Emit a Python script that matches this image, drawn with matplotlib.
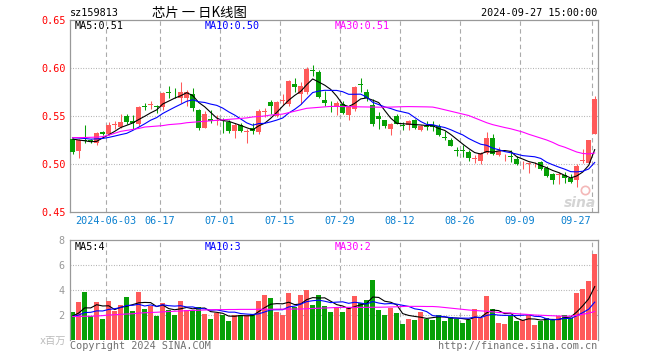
import matplotlib
matplotlib.use("Agg")
import matplotlib.pyplot as plt
import matplotlib.transforms as mtransforms
import pandas as pd

plt.rcParams['font.family'] = ['DejaVu Sans Mono', 'Noto Sans CJK SC']

code = "sz159813"
title = "芯片 一 日K线图"
stamp = "2024-09-27 15:00:00"

# daily OHLC, 2024-05-24 .. 2024-09-27
opens = [0.526, 0.514, 0.525, 0.525, 0.522, 0.533, 0.531, 0.541, 0.539, 0.550,
         0.545, 0.542, 0.560, 0.561, 0.560, 0.559, 0.575, 0.575, 0.569, 0.569,
         0.573, 0.556, 0.538, 0.547, 0.545, 0.546, 0.5435, 0.534, 0.541, 0.533,
         0.537, 0.533, 0.554, 0.565, 0.5505, 0.566, 0.5626, 0.583, 0.573, 0.5747,
         0.598, 0.5955, 0.567, 0.560, 0.559, 0.5625, 0.5515, 0.557, 0.583, 0.575,
         0.561, 0.5505, 0.5455, 0.536, 0.550, 0.5405, 0.541, 0.5455, 0.535, 0.540,
         0.541, 0.540, 0.528, 0.5255, 0.515, 0.5145, 0.5125, 0.5055, 0.503, 0.5115,
         0.527, 0.509, 0.507, 0.508, 0.5055, 0.4975, 0.500, 0.4995, 0.502, 0.4955,
         0.4895, 0.489, 0.489, 0.485, 0.4832, 0.5035, 0.5015, 0.5315]
highs = [0.527, 0.526, 0.541, 0.526, 0.533, 0.534, 0.544, 0.545, 0.552, 0.5525,
         0.551, 0.560, 0.564, 0.566, 0.561, 0.575, 0.581, 0.579, 0.585, 0.577,
         0.579, 0.557, 0.555, 0.556, 0.551, 0.548, 0.546, 0.543, 0.543, 0.536,
         0.543, 0.557, 0.558, 0.567, 0.566, 0.573, 0.587, 0.590, 0.585, 0.601,
         0.603, 0.598, 0.576, 0.566, 0.566, 0.566, 0.561, 0.581, 0.590, 0.578,
         0.568, 0.554, 0.546, 0.543, 0.552, 0.5436, 0.546, 0.547, 0.541, 0.5446,
         0.545, 0.5415, 0.534, 0.527, 0.518, 0.5195, 0.5142, 0.509, 0.513, 0.533,
         0.531, 0.5177, 0.510, 0.5142, 0.5085, 0.5032, 0.502, 0.502, 0.5035, 0.4975,
         0.491, 0.4918, 0.4918, 0.4894, 0.4997, 0.516, 0.525, 0.571]
lows = [0.5105, 0.506, 0.522, 0.522, 0.520, 0.530, 0.530, 0.536, 0.538, 0.5415,
        0.536, 0.540, 0.556, 0.557, 0.553, 0.556, 0.569, 0.569, 0.564, 0.560,
        0.555, 0.535, 0.537, 0.543, 0.541, 0.532, 0.532, 0.527, 0.533, 0.522,
        0.531, 0.531, 0.549, 0.552, 0.549, 0.561, 0.560, 0.5747, 0.5626, 0.573,
        0.592, 0.569, 0.560, 0.554, 0.551, 0.552, 0.546, 0.555, 0.5747, 0.566,
        0.540, 0.5367, 0.537, 0.530, 0.5415, 0.5357, 0.5357, 0.536, 0.534, 0.535,
        0.5345, 0.5295, 0.5246, 0.5185, 0.508, 0.5075, 0.5032, 0.501, 0.5005, 0.510,
        0.5095, 0.5085, 0.5032, 0.502, 0.499, 0.4943, 0.4907, 0.497, 0.4935, 0.4865,
        0.479, 0.479, 0.4797, 0.480, 0.476, 0.501, 0.501, 0.531]
closes = [0.513, 0.525, 0.524, 0.524, 0.532, 0.531, 0.541, 0.542, 0.544, 0.5435,
          0.543, 0.559, 0.559, 0.562, 0.559, 0.5735, 0.574, 0.5745, 0.5745, 0.575,
          0.5585, 0.538, 0.552, 0.545, 0.546, 0.545, 0.5345, 0.541, 0.5345, 0.534,
          0.534, 0.555, 0.555, 0.560, 0.5643, 0.567, 0.586, 0.580, 0.581, 0.599,
          0.597, 0.570, 0.5635, 0.559, 0.564, 0.5535, 0.559, 0.5805, 0.582, 0.569,
          0.542, 0.5465, 0.5395, 0.542, 0.542, 0.5398, 0.5445, 0.537, 0.540, 0.539,
          0.539, 0.530, 0.527, 0.519, 0.514, 0.514, 0.5065, 0.506, 0.5115, 0.5275,
          0.510, 0.5135, 0.5075, 0.507, 0.4998, 0.498, 0.5005, 0.500, 0.4945, 0.4875,
          0.4838, 0.4895, 0.4857, 0.481, 0.4977, 0.504, 0.5245, 0.5675]
# volume, million shares
volume = [2.21, 3.07, 3.87, 1.89, 3.07, 1.71, 3.15, 2.35, 2.83, 3.47,
          2.35, 3.87, 2.51, 2.75, 1.89, 2.99, 2.43, 2.03, 3.15, 2.43,
          2.43, 2.67, 2.11, 1.71, 2.16, 2.03, 1.55, 2.03, 2.03, 2.03,
          2.11, 3.15, 3.63, 3.39, 2.27, 2.03, 3.79, 2.67, 3.63, 4.03,
          2.83, 3.63, 2.75, 2.27, 2.67, 2.27, 2.59, 3.55, 2.99, 3.23,
          4.83, 2.43, 2.03, 2.59, 2.19, 1.31, 1.71, 1.63, 2.27, 1.71,
          1.63, 2.03, 1.55, 1.87, 1.71, 1.39, 1.63, 2.51, 1.79, 3.55,
          2.51, 1.39, 1.31, 1.95, 1.55, 1.63, 2.03, 1.23, 1.55, 1.79,
          1.63, 1.95, 2.03, 1.79, 3.79, 4.11, 4.75, 6.91]
# sessions before the window, needed to start MA5 / MA10
prev_close = [0.530, 0.528, 0.531, 0.529, 0.527, 0.530, 0.528, 0.529, 0.530]
prev_volume = [1.8, 1.9, 1.7, 1.9, 1.8, 1.9, 1.8, 1.9, 1.8]
ma30_price = [0.5275, 0.5275, 0.5276, 0.5278, 0.528, 0.5285, 0.530, 0.532, 0.534, 0.535,
              0.536, 0.537, 0.5385, 0.539, 0.5395, 0.540, 0.541, 0.5415, 0.542, 0.543,
              0.5435, 0.544, 0.5445, 0.545, 0.5455, 0.546, 0.5465, 0.547, 0.5475, 0.548,
              0.549, 0.5495, 0.550, 0.551, 0.5515, 0.552, 0.5535, 0.555, 0.5565, 0.558,
              0.5585, 0.559, 0.5595, 0.560, 0.560, 0.5598, 0.5598, 0.5596, 0.5595, 0.5594,
              0.5593, 0.5592, 0.5592, 0.5593, 0.5595, 0.5597, 0.5598, 0.5597, 0.5596, 0.5595,
              0.5593, 0.558, 0.5565, 0.555, 0.5535, 0.552, 0.5505, 0.548, 0.5455, 0.543,
              0.541, 0.5395, 0.538, 0.5367, 0.535, 0.5333, 0.531, 0.529, 0.527, 0.525,
              0.5225, 0.5195, 0.5175, 0.515, 0.5125, 0.511, 0.5105, 0.5115]
ma30_volume = [1.88, 1.88, 1.90, 1.90, 1.92, 1.95, 2.00, 2.02, 2.05, 2.08,
               2.10, 2.15, 2.18, 2.20, 2.22, 2.25, 2.28, 2.30, 2.32, 2.35,
               2.37, 2.38, 2.40, 2.42, 2.43, 2.43, 2.44, 2.44, 2.45, 2.45,
               2.45, 2.46, 2.46, 2.46, 2.47, 2.47, 2.47, 2.48, 2.48, 2.50,
               2.52, 2.54, 2.56, 2.58, 2.60, 2.61, 2.61, 2.61, 2.61, 2.61,
               2.62, 2.62, 2.63, 2.64, 2.66, 2.68, 2.69, 2.69, 2.69, 2.68,
               2.68, 2.65, 2.60, 2.55, 2.50, 2.45, 2.40, 2.36, 2.33, 2.30,
               2.25, 2.20, 2.18, 2.15, 2.10, 2.07, 2.04, 2.00, 1.98, 1.96,
               1.94, 1.92, 1.90, 1.92, 1.97, 2.05, 2.15, 2.28]
tick_idx = [6, 15, 25, 35, 45, 55, 65, 75, 87]
tick_labels = ["2024-06-03", "06-17", "07-01", "07-15", "07-29",
               "08-12", "08-26", "09-09", "09-27"]

UP, DOWN = "#ff5a5a", "#07a007"
GRID, FRAME = "#aaaaaa", "#999999"

n = len(closes)
x = list(range(n))
skip = len(prev_close)
c = pd.Series(prev_close + closes)
v = pd.Series(prev_volume + volume)
ma5 = c.rolling(5).mean().iloc[skip:].values
ma10 = c.rolling(10).mean().iloc[skip:].values
vma5 = v.rolling(5).mean().iloc[skip:].values
vma10 = v.rolling(10).mean().iloc[skip:].values
colors = [UP if cl >= op else DOWN for op, cl in zip(opens, closes)]

fig = plt.figure(figsize=(6.6, 3.6), dpi=100)
ax = fig.add_axes([70 / 660, 148 / 360, 528 / 660, 192 / 360])
axv = fig.add_axes([70 / 660, 20 / 360, 528 / 660, 100 / 360])

grid_x = [t - 0.45 for t in tick_idx]
for a in (ax, axv):
    a.set_xlim(-0.45, n - 0.45)
    a.set_xticks([])
    for s in a.spines.values():
        s.set_color(FRAME)
        s.set_linewidth(0.9)
    for gx in grid_x:
        a.axvline(gx, color=GRID, lw=0.8, dashes=(4, 3), zorder=0)
    a.tick_params(axis='y', length=0, labelsize=7.3)

# price panel
ax.set_ylim(0.45, 0.65)
ax.set_yticks([0.45, 0.50, 0.55, 0.60, 0.65])
ax.set_yticklabels(["%.2f" % t for t in ax.get_yticks()])
ax.tick_params(axis='y', labelcolor="#ff0000", pad=3)
for gy in (0.50, 0.55, 0.60):
    ax.axhline(gy, color=GRID, lw=0.8, dashes=(0.8, 1.5), zorder=0)

ax.vlines(x, lows, highs, colors=colors, lw=0.75, zorder=2)
bottoms = [min(o, cl) for o, cl in zip(opens, closes)]
heights = [max(abs(cl - o), 0.0007) for o, cl in zip(opens, closes)]
ax.bar(x, heights, bottom=bottoms, width=0.82, color=colors, lw=0, zorder=3)
ax.plot(x, ma5, color="black", lw=0.8, zorder=4)
ax.plot(x, ma10, color="#0000ff", lw=0.8, zorder=4)
ax.plot(x, ma30_price, color="#ff00ff", lw=0.8, zorder=4)

blend = mtransforms.blended_transform_factory(ax.transData, ax.transAxes)
for t, lab in zip(tick_idx, tick_labels):
    if t == tick_idx[-1]:
        ax.text(t - 0.62, -0.047, lab, transform=blend, ha="right", va="center",
                color="#0a80d0", fontsize=7.3)
    else:
        ax.text(t - 0.45, -0.047, lab, transform=blend, ha="center", va="center",
                color="#0a80d0", fontsize=7.3)

ax.text(5 / 528, 1 - 6 / 192, "MA5:0.51", transform=ax.transAxes, color="black",
        fontsize=7.3, va="center")
ax.text(135 / 528, 1 - 6 / 192, "MA10:0.50", transform=ax.transAxes, color="#0000ff",
        fontsize=7.3, va="center")
ax.text(265 / 528, 1 - 6 / 192, "MA30:0.51", transform=ax.transAxes, color="#ff00ff",
        fontsize=7.3, va="center")

# sina watermark
ax.plot([0.975], [0.115], transform=ax.transAxes, marker="o", ms=6, mfc="none",
        mec="#f4b8b8", mew=1.2, zorder=1)
ax.text(0.997, 0.045, "sina", transform=ax.transAxes, ha="right", va="center",
        color="#d4d4d4", fontsize=10, fontweight="bold", style="italic",
        family="DejaVu Sans", zorder=1)

# volume panel
axv.set_ylim(0, 8)
axv.spines["bottom"].set_visible(False)
axv.set_yticks([2, 4, 6, 8])
axv.set_yticklabels(["2", "4", "6", "8"])
axv.tick_params(axis='y', labelcolor="#999999", pad=4)
for gy in (2, 4, 6):
    axv.axhline(gy, color=GRID, lw=0.8, dashes=(0.8, 1.5), zorder=0)
axv.bar(x, volume, width=0.88, color=colors, lw=0, zorder=2)
axv.plot(x, vma5, color="black", lw=0.8, zorder=4)
axv.plot(x, vma10, color="#0000ff", lw=0.8, zorder=4)
axv.plot(x, ma30_volume, color="#ff00ff", lw=0.8, zorder=4)
axv.text(5 / 528, 1 - 7 / 100, "MA5:4", transform=axv.transAxes, color="black",
         fontsize=7.3, va="center")
axv.text(135 / 528, 1 - 7 / 100, "MA10:3", transform=axv.transAxes, color="#0000ff",
         fontsize=7.3, va="center")
axv.text(265 / 528, 1 - 7 / 100, "MA30:2", transform=axv.transAxes, color="#ff00ff",
         fontsize=7.3, va="center")

# header and footer
fig.text(70 / 660, 1 - 13 / 360, code, fontsize=7.3, va="center", ha="left")
fig.text(199 / 660, 1 - 13 / 360, title, fontsize=9.6, va="center", ha="center",
         family=["Noto Sans CJK SC", "DejaVu Sans"])
fig.text(597 / 660, 1 - 13 / 360, stamp, fontsize=7.3, va="center", ha="right")
fig.text(66 / 660, 1 - 341 / 360, "x百万", fontsize=7.3, va="center", ha="right",
         color="#bbbbbb", family=["DejaVu Sans Mono", "Noto Sans CJK SC"])
fig.text(70 / 660, 1 - 346 / 360, "Copyright 2024 SINA.COM", fontsize=7.3,
         va="center", ha="left", color="#707070")
fig.text(597 / 660, 1 - 346 / 360, "http://finance.sina.com.cn", fontsize=7.3,
         va="center", ha="right", color="#707070")

fig.savefig("out.png", dpi=100)
